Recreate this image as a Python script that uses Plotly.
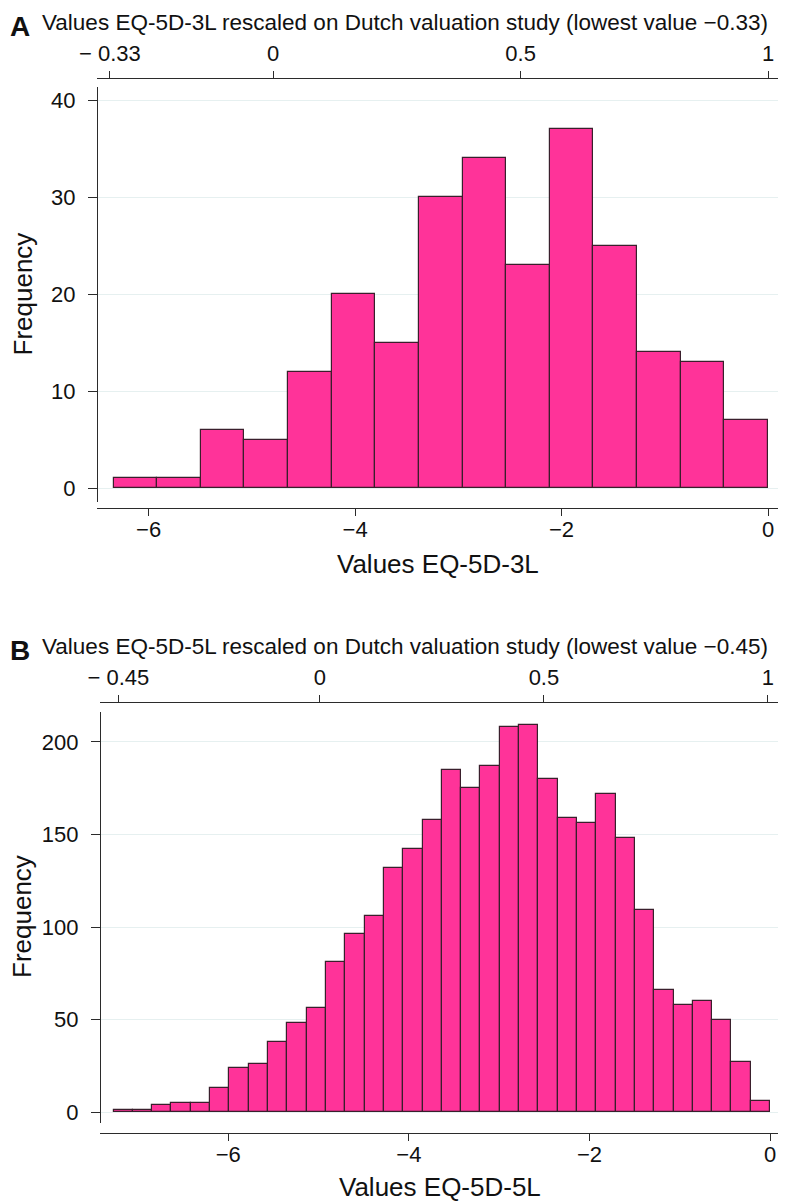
import numpy as np
import plotly.graph_objects as go

# ---------------- data ----------------
# Panel A: EQ-5D-3L histogram (15 bins)
freq_3l = [1, 1, 6, 5, 12, 20, 15, 30, 34, 23, 37, 25, 14, 13, 7]
bin_start_3l = -6.34
bin_width_3l = 6.34 / 15

# Panel B: EQ-5D-5L histogram (34 bins)
freq_5l = [1, 1, 4, 5, 5, 13, 24, 26, 38, 48, 56, 81, 96, 106, 132, 142, 158, 185,
           175, 187, 208, 209, 180, 159, 156, 172, 148, 109, 66, 58, 60, 50, 27, 6]
bin_start_5l = -7.27
bin_width_5l = 7.27 / 34

bottom_ticks = [-6, -4, -2, 0]
yticks_3l = [0, 10, 20, 30, 40]
yticks_5l = [0, 50, 100, 150, 200]
top_tickvals_3l = [-0.33, 0, 0.5, 1]
top_ticktext_3l = ["\u2212 0.33", "0", "0.5", "1"]
top_tickvals_5l = [-0.45, 0, 0.5, 1]
top_ticktext_5l = ["\u2212 0.45", "0", "0.5", "1"]

title_3l = "Values EQ-5D-3L rescaled on Dutch valuation study (lowest value \u22120.33)"
title_5l = "Values EQ-5D-5L rescaled on Dutch valuation study (lowest value \u22120.45)"
xtitle_3l = "Values EQ-5D-3L"
xtitle_5l = "Values EQ-5D-5L"
ytitle = "Frequency"

# ---------------- style ----------------
OFF = 8  # page body margin
W, H = 786 - OFF, 1201 - OFF
FONT = "Liberation Sans, Arial, sans-serif"
BAR = "#FF3399"
EDGE = "#3a1f2c"
AX = "#2b2b2b"
GRID = "#E6F0F0"


def px(x):
    return (x - OFF) / W


def py(y):
    return 1 - (y - OFF) / H


centers_3l = bin_start_3l + bin_width_3l * (np.arange(len(freq_3l)) + 0.5)
centers_5l = bin_start_5l + bin_width_5l * (np.arange(len(freq_5l)) + 0.5)

fig = go.Figure()
fig.add_trace(go.Bar(x=centers_3l, y=freq_3l, width=bin_width_3l,
                     marker=dict(color=BAR, line=dict(color=EDGE, width=1.2)),
                     xaxis="x", yaxis="y", showlegend=False))
fig.add_trace(go.Scatter(x=[], y=[], xaxis="x2", yaxis="y", showlegend=False))
fig.add_trace(go.Bar(x=centers_5l, y=freq_5l, width=bin_width_5l,
                     marker=dict(color=BAR, line=dict(color=EDGE, width=1.2)),
                     xaxis="x3", yaxis="y2", showlegend=False))
fig.add_trace(go.Scatter(x=[], y=[], xaxis="x4", yaxis="y2", showlegend=False))

tickfont = dict(family=FONT, size=22, color="#111")
common_x = dict(showline=True, linecolor=AX, linewidth=1.2, ticks="outside",
                ticklen=7, tickcolor=AX, tickwidth=1.2, showgrid=False,
                zeroline=False, tickfont=tickfont, fixedrange=True)
common_y = dict(showline=True, linecolor=AX, linewidth=1.2, ticks="outside",
                ticklen=9, tickcolor=AX, tickwidth=1.2, showgrid=True,
                gridcolor=GRID, gridwidth=1, zeroline=False, tickfont=tickfont,
                fixedrange=True)

fig.update_layout(
    xaxis=dict(common_x, domain=[px(97), px(780)], anchor="free", position=py(508),
               range=[-6.50, 0.116], tickvals=bottom_ticks, ticklabelstandoff=-6),
    xaxis2=dict(common_x, domain=[px(97), px(780)], anchor="free", position=py(78),
                overlaying="x", side="top", range=[-0.356, 1.024],
                tickvals=top_tickvals_3l, ticktext=top_ticktext_3l, ticklabelstandoff=1),
    yaxis=dict(common_y, domain=[py(502), py(87)], anchor="free", position=px(97),
               range=[-1.44, 41.34], tickvals=yticks_3l, ticklabelstandoff=8),
    xaxis3=dict(common_x, domain=[px(100), px(780)], anchor="free", position=py(1133),
                range=[-7.42, 0.11], tickvals=bottom_ticks, ticklabelstandoff=-6),
    xaxis4=dict(common_x, domain=[px(100), px(780)], anchor="free", position=py(702),
                overlaying="x3", side="top", range=[-0.491, 1.027],
                tickvals=top_tickvals_5l, ticktext=top_ticktext_5l, ticklabelstandoff=1),
    yaxis2=dict(common_y, domain=[py(1123), py(712)], anchor="free", position=px(100),
                range=[-5.9, 216.2], tickvals=yticks_5l, ticklabelstandoff=8),
)

ann = []
def add(text, x, y, size, xanchor="center", bold=False, angle=0):
    ann.append(dict(text=f"<b>{text}</b>" if bold else text, x=px(x), y=py(y),
                    xref="paper", yref="paper", xanchor=xanchor, yanchor="middle",
                    showarrow=False, textangle=angle,
                    font=dict(family=FONT, size=size, color="#111")))

add("A", 8, 26, 28, xanchor="left", bold=True)
add(title_3l, 40, 23, 22.5, xanchor="left")
add(xtitle_3l, 438, 564, 26)
add(ytitle, 22, 294.5, 26, angle=-90)
add("B", 8, 650, 28, xanchor="left", bold=True)
add(title_5l, 40, 646, 22.5, xanchor="left")
add(xtitle_5l, 440, 1187, 26)
add(ytitle, 22, 917, 26, angle=-90)

fig.update_layout(
    width=W, height=H,
    margin=dict(l=0, r=0, t=0, b=0, pad=0, autoexpand=False),
    paper_bgcolor="white", plot_bgcolor="white",
    bargap=0, annotations=ann,
    font=dict(family=FONT),
)

fig.write_html("out.html")
